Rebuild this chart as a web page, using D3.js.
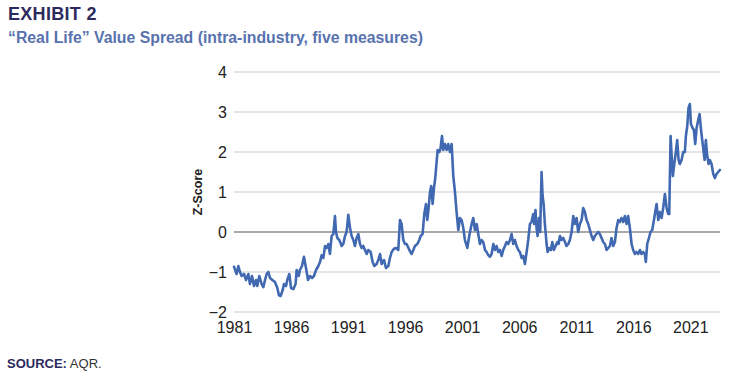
<!DOCTYPE html>
<html>
<head>
<meta charset="utf-8">
<script src="https://cdn.jsdelivr.net/npm/d3@7"></script>
<style>
  html, body { margin: 0; padding: 0; background: #fff; }
  svg { display: block; font-family: "Liberation Sans", Arial, sans-serif; }
</style>
</head>
<body>
<svg id="chart" width="740" height="380"></svg>
<script>
const titleText = "EXHIBIT 2";
const subtitleText = "\u201CReal Life\u201D Value Spread (intra-industry, five measures)";
const yAxisLabel = "Z-Score";
const sourceLabel = "SOURCE:";
const sourceText = " AQR.";

const yTicks = [-2, -1, 0, 1, 2, 3, 4];
const xTickYears = [1981, 1986, 1991, 1996, 2001, 2006, 2011, 2016, 2021];

const dates = [
  1981.00,1981.23,1981.38,1981.53,1981.67,1981.88,1982.05,1982.26,1982.40,1982.58,1982.75,1982.93,
  1983.04,1983.22,1983.42,1983.57,1983.72,1983.86,1984.01,1984.16,1984.36,1984.59,1984.80,1984.94,
  1985.09,1985.27,1985.38,1985.56,1985.67,1985.85,1986.00,1986.20,1986.40,1986.49,1986.67,1986.78,
  1986.96,1987.13,1987.31,1987.49,1987.66,1987.84,1988.01,1988.19,1988.39,1988.54,1988.68,1988.83,
  1988.98,1989.12,1989.27,1989.41,1989.56,1989.71,1989.85,1989.94,1990.06,1990.23,1990.44,1990.58,
  1990.73,1990.87,1991.02,1991.17,1991.31,1991.46,1991.60,1991.75,1991.90,1992.04,1992.19,1992.33,
  1992.48,1992.63,1992.77,1992.98,1993.15,1993.30,1993.50,1993.65,1993.80,1993.94,1994.15,1994.32,
  1994.53,1994.67,1994.82,1995.02,1995.20,1995.40,1995.55,1995.69,1995.84,1995.99,1996.13,1996.37,
  1996.57,1996.72,1996.86,1997.07,1997.24,1997.36,1997.53,1997.68,1997.83,1997.94,1998.06,1998.18,
  1998.29,1998.41,1998.53,1998.64,1998.76,1998.85,1999.00,1999.11,1999.23,1999.35,1999.49,1999.64,
  1999.78,1999.93,2000.08,2000.22,2000.37,2000.51,2000.66,2000.80,2000.95,2001.10,2001.24,2001.45,
  2001.62,2001.83,2001.97,2002.12,2002.27,2002.41,2002.56,2002.70,2002.85,2003.00,2003.14,2003.29,
  2003.43,2003.58,2003.73,2003.87,2004.02,2004.16,2004.31,2004.46,2004.60,2004.75,2004.89,2005.04,
  2005.19,2005.33,2005.48,2005.62,2005.77,2005.92,2006.06,2006.21,2006.35,2006.50,2006.65,2006.79,
  2006.94,2007.08,2007.23,2007.32,2007.43,2007.52,2007.61,2007.73,2007.84,2007.96,2008.05,2008.14,
  2008.25,2008.40,2008.49,2008.63,2008.78,2008.90,2009.04,2009.19,2009.34,2009.45,2009.57,2009.71,
  2009.86,2010.01,2010.15,2010.30,2010.44,2010.59,2010.74,2010.88,2011.03,2011.17,2011.32,2011.47,
  2011.61,2011.76,2011.90,2012.05,2012.20,2012.34,2012.49,2012.63,2012.78,2012.93,2013.07,2013.22,
  2013.36,2013.51,2013.66,2013.80,2013.95,2014.09,2014.24,2014.39,2014.53,2014.68,2014.82,2014.97,
  2015.12,2015.26,2015.41,2015.55,2015.70,2015.85,2015.99,2016.14,2016.28,2016.43,2016.58,2016.72,
  2016.87,2017.01,2017.10,2017.22,2017.37,2017.51,2017.66,2017.81,2017.95,2018.04,2018.19,2018.33,
  2018.48,2018.62,2018.77,2018.92,2019.06,2019.15,2019.27,2019.38,2019.47,2019.59,2019.73,2019.85,
  2019.97,2020.08,2020.23,2020.38,2020.52,2020.61,2020.73,2020.84,2020.96,2021.05,2021.20,2021.31,
  2021.43,2021.55,2021.69,2021.81,2021.92,2022.04,2022.13,2022.25,2022.36,2022.48,2022.60,2022.71,
  2022.86,2023.01,2023.15,2023.30,2023.44,2023.59
];

const zScores = [
  -0.87,-1.05,-0.85,-1.00,-1.10,-1.05,-1.20,-1.05,-1.30,-1.10,-1.35,-1.20,
  -1.35,-1.10,-1.30,-1.38,-1.20,-1.05,-1.00,-1.15,-1.20,-1.25,-1.40,-1.58,
  -1.60,-1.45,-1.30,-1.35,-1.20,-1.05,-1.40,-1.43,-1.30,-0.95,-1.10,-0.95,
  -0.85,-0.62,-0.90,-1.20,-1.10,-1.15,-1.10,-0.95,-0.85,-0.75,-0.58,-0.65,
  -0.35,-0.40,-0.30,-0.55,-0.10,-0.05,0.40,0.00,-0.15,-0.20,-0.35,-0.30,
  -0.10,0.00,0.43,0.10,-0.10,-0.20,-0.35,-0.15,-0.05,-0.30,-0.40,-0.35,
  -0.45,-0.55,-0.45,-0.50,-0.75,-0.85,-0.80,-0.70,-0.55,-0.80,-0.70,-0.90,
  -0.85,-0.65,-0.50,-0.42,-0.40,-0.45,0.30,0.20,-0.20,-0.30,-0.30,-0.45,
  -0.55,-0.45,-0.35,-0.30,-0.20,-0.10,-0.05,0.45,0.70,0.30,0.60,1.00,
  1.15,0.70,1.10,1.35,1.75,2.05,2.00,2.10,2.40,2.05,2.20,2.05,
  2.20,2.00,2.20,1.40,1.00,0.50,0.05,0.35,0.30,0.10,-0.20,-0.40,
  -0.10,0.20,0.35,0.05,0.20,-0.05,-0.30,-0.20,-0.25,-0.45,-0.50,-0.58,
  -0.62,-0.55,-0.30,-0.45,-0.35,-0.50,-0.45,-0.60,-0.45,-0.35,-0.25,-0.30,
  -0.20,-0.05,-0.30,-0.20,-0.35,-0.45,-0.50,-0.65,-0.60,-0.80,-0.50,-0.20,
  0.20,0.25,0.45,0.20,0.55,0.10,-0.10,0.35,0.00,1.50,0.90,0.70,
  0.20,-0.30,-0.50,-0.40,-0.45,-0.25,-0.45,-0.35,-0.25,-0.30,-0.10,-0.20,
  -0.15,-0.25,-0.35,-0.30,-0.20,0.00,0.40,0.20,0.35,0.00,0.20,0.30,
  0.60,0.50,0.30,0.20,0.05,-0.10,-0.20,-0.10,-0.05,0.00,-0.05,-0.15,
  -0.25,-0.30,-0.45,-0.40,-0.35,-0.15,-0.35,-0.25,0.10,0.30,0.25,0.35,
  0.25,0.40,0.20,0.40,0.10,-0.30,-0.45,-0.55,-0.50,-0.55,-0.45,-0.55,
  -0.50,-0.55,-0.75,-0.30,-0.15,0.00,0.05,0.30,0.55,0.70,0.30,0.50,
  0.35,0.60,0.95,0.60,0.45,0.45,2.40,1.80,1.40,1.70,2.00,2.30,
  1.80,1.70,1.80,2.00,2.00,2.40,2.65,3.10,3.20,2.70,2.60,2.55,
  2.20,2.60,2.80,2.95,2.60,2.30,2.10,1.80,2.30,1.90,1.70,1.80,
  1.70,1.45,1.35,1.45,1.50,1.55
];

const svg = d3.select("#chart");
const margin = { left: 234, right: 20, top: 72, bottom: 68 };
const W = 740, H = 380;

const x = d3.scaleLinear().domain([1981, 2023.6]).range([margin.left, W - margin.right]);
const y = d3.scaleLinear().domain([-2, 4]).range([H - margin.bottom, margin.top]);

// Title
svg.append("text").attr("x", 8).attr("y", 19.5)
  .attr("font-size", 18).attr("font-weight", "bold").attr("fill", "#2d2a5e")
  .attr("letter-spacing", 0.3)
  .text(titleText);
svg.append("text").attr("x", 8).attr("y", 43.3)
  .attr("font-size", 15.8).attr("font-weight", "bold").attr("fill", "#5872ae")
  .text(subtitleText);

// Gridlines
const grid = svg.append("g");
grid.selectAll("line").data(yTicks).join("line")
  .attr("x1", x(1981)).attr("x2", W - margin.right)
  .attr("y1", d => y(d)).attr("y2", d => y(d))
  .attr("stroke", d => d === 0 ? "#a9a9a9" : "#dcdcdc")
  .attr("stroke-width", d => d === 0 ? 2 : 1.5);

// Y axis labels
const yAxis = d3.axisLeft(y).tickValues(yTicks).tickSize(0).tickPadding(0)
  .tickFormat(d => d < 0 ? "\u2212" + Math.abs(d) : String(d));
const gy = svg.append("g").attr("transform", `translate(${227},0)`).call(yAxis);
gy.select(".domain").remove();
gy.selectAll("text").attr("font-size", 16).attr("fill", "#222")
  .attr("font-family", "Liberation Sans, Arial, sans-serif");

// X axis labels
const xAxis = d3.axisBottom(x).tickValues(xTickYears).tickSize(0).tickPadding(0)
  .tickFormat(d3.format("d"));
const gx = svg.append("g").attr("transform", `translate(0,${322})`).call(xAxis);
gx.select(".domain").remove();
gx.selectAll("text").attr("font-size", 16).attr("fill", "#222")
  .attr("font-family", "Liberation Sans, Arial, sans-serif");

// Y axis title
svg.append("text")
  .attr("transform", `translate(${201.5},${192}) rotate(-90)`)
  .attr("text-anchor", "middle")
  .attr("font-size", 12.5).attr("font-weight", "bold").attr("fill", "#222")
  .text(yAxisLabel);

// Line
const series = dates.map((d, i) => ({ t: d, v: zScores[i] }));
const line = d3.line().x(d => x(d.t)).y(d => y(d.v));
svg.append("path").datum(series)
  .attr("fill", "none").attr("stroke", "#4169b1").attr("stroke-width", 2.6)
  .attr("stroke-linejoin", "round").attr("stroke-linecap", "round")
  .attr("d", line);

// Source
const src = svg.append("text").attr("x", 7).attr("y", 368).attr("font-size", 13);
src.append("tspan").attr("font-weight", "bold").attr("fill", "#2d2a5e").text(sourceLabel);
src.append("tspan").attr("fill", "#333").text(sourceText);
</script>
</body>
</html>
